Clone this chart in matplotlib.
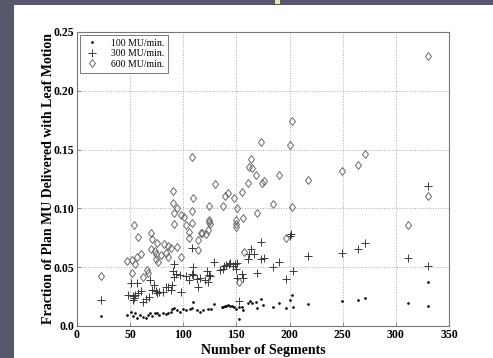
import matplotlib
matplotlib.use('Agg')
import matplotlib.pyplot as plt
from matplotlib.patches import Rectangle

# Times-like serif font (Liberation Serif is metric compatible with Times)
plt.rcParams['font.family'] = 'Liberation Serif'

# 100 MU/min. (dots)
seg_100 = [23, 47, 51, 53, 55, 56, 59, 62, 65, 67, 69, 71, 73, 75, 77, 81, 84, 86, 88, 89,
           91, 94, 97, 100, 103, 106, 108, 109, 113, 116, 119, 123, 126, 129, 136, 139, 142, 146,
           137, 140, 144, 148, 150, 152, 152, 155, 156, 161, 163, 165, 168, 169, 173, 175, 184, 190,
           197, 200, 202, 203, 217, 249, 264, 271, 311, 330, 330]
frac_100 = [0.0085, 0.0094, 0.0122, 0.0085, 0.011, 0.0065, 0.0094, 0.0074, 0.0065, 0.0094,
            0.011, 0.0085, 0.0113, 0.011, 0.0094, 0.011, 0.0099, 0.011, 0.0119, 0.0142,
            0.015, 0.0136, 0.0122, 0.0142, 0.0136, 0.0142, 0.015, 0.0207, 0.0133, 0.0122, 0.0136,
            0.0142, 0.0142, 0.0187, 0.0164, 0.017, 0.0176, 0.017,
            0.0158, 0.017, 0.017, 0.0164, 0.0142, 0.0158, 0.0062, 0.0164, 0.0136, 0.0193, 0.0215,
            0.0198, 0.0207, 0.015, 0.0232, 0.0178, 0.0158, 0.0193, 0.015, 0.0221, 0.0263, 0.0158,
            0.0187, 0.0212, 0.0221, 0.0235, 0.0193, 0.0377, 0.0167]

# 300 MU/min. (plus)
seg_300 = [23, 48, 51, 56, 53, 53, 55, 57, 54, 62, 65, 60, 68, 69, 72, 71, 74, 75, 77, 81,
           84, 86, 88, 89, 91, 90, 91, 93, 97, 98, 103, 105, 108, 109, 108, 109, 113, 116, 114,
           120, 123, 124, 122, 125, 129, 137, 140, 143, 147,
           135, 138, 144, 149, 151, 150, 151, 155, 156, 152, 161, 162, 164, 167, 173, 173, 176,
           169, 184, 190, 197, 200, 201, 203, 217, 249, 264, 271, 311, 330, 330]
frac_300 = [0.0221, 0.0264, 0.0368, 0.0368, 0.022, 0.0255, 0.026, 0.028, 0.0234, 0.0206,
            0.0226, 0.0299, 0.025, 0.039, 0.0348, 0.031, 0.0299, 0.0278, 0.0289, 0.0292,
            0.0334, 0.0334, 0.0306, 0.0348, 0.0526, 0.047, 0.042, 0.0443, 0.0437, 0.0289,
            0.0426, 0.039, 0.0443, 0.043, 0.0666, 0.050, 0.040, 0.041, 0.0334,
            0.039, 0.0377, 0.043, 0.047, 0.0426, 0.0548, 0.0482, 0.0518, 0.0524, 0.051,
            0.048, 0.051, 0.0532, 0.0526, 0.0535, 0.0482, 0.0412, 0.044, 0.0412, 0.0209,
            0.0566, 0.0612, 0.0652, 0.061, 0.0717, 0.0566, 0.058,
            0.045, 0.0498, 0.0544, 0.0403, 0.0765, 0.0785, 0.0466, 0.0595, 0.0618, 0.0652,
            0.0703, 0.058, 0.1193, 0.0507]

# 600 MU/min. (diamonds)
seg_600 = [23, 54, 57, 47, 52, 52, 55, 56, 60, 62, 66, 67, 70, 71, 70, 73, 75, 74, 74, 76,
           79, 82, 84, 86, 86, 88, 90, 90, 91, 91, 94, 94, 98, 98, 101, 103, 105, 105, 108,
           108, 109, 108, 114, 114, 118, 117, 121, 123, 124, 125, 124, 130, 124, 137, 139, 142,
           148, 151, 150, 150, 150, 152, 155, 156, 157, 161, 162, 164, 165, 168, 169, 173, 174,
           176, 184, 190, 197, 200, 202, 202, 217, 249, 264, 271, 311, 330, 330]
frac_600 = [0.0428, 0.0856, 0.076, 0.055, 0.056, 0.0448, 0.0526, 0.0589, 0.0608, 0.042,
            0.0479, 0.0451, 0.0788, 0.0737, 0.0652, 0.064, 0.0703, 0.0615, 0.0573, 0.0544,
            0.0603, 0.0697, 0.0618, 0.059, 0.068, 0.066, 0.115, 0.1047, 0.087, 0.0958,
            0.100, 0.0675, 0.059, 0.0944, 0.0924, 0.086, 0.080, 0.075, 0.0873, 0.144,
            0.109, 0.098, 0.0733, 0.065, 0.079, 0.079, 0.078, 0.082, 0.0886, 0.0867, 0.1021,
            0.1207, 0.090, 0.102, 0.1105, 0.113, 0.109, 0.100, 0.0902, 0.0868, 0.0845, 0.0377,
            0.114, 0.0915, 0.0631, 0.122, 0.1355, 0.1417, 0.1341, 0.1284, 0.0958, 0.1567, 0.122,
            0.123, 0.104, 0.128, 0.0746, 0.1543, 0.1746, 0.101, 0.1239, 0.1318, 0.1372, 0.146,
            0.0858, 0.2299, 0.1103]

x_ticks = [0, 50, 100, 150, 200, 250, 300, 350]
y_ticks = [0.0, 0.05, 0.10, 0.15, 0.20, 0.25]
y_tick_labels = ['0.0', '0.05', '0.10', '0.15', '0.20', '0.25']

fig = plt.figure(figsize=(4.93, 3.58), dpi=100)
fig.patch.set_facecolor('#56596b')
# white slide panel and the little yellow title fragment
fig.patches.append(Rectangle((14 / 493, 0), 1 - 14 / 493, 1 - 5 / 358,
                             transform=fig.transFigure, facecolor='white',
                             edgecolor='none', zorder=-5))
fig.patches.append(Rectangle((275 / 493, 1 - 4 / 358), 5 / 493, 4 / 358,
                             transform=fig.transFigure, facecolor='#f2e39a',
                             edgecolor='none', zorder=-5))

ax = fig.add_axes([77 / 493, 1 - 326 / 358, (449 - 77) / 493, (326 - 32) / 358])
ax.set_zorder(2)

ax.plot(seg_100, frac_100, '.', color='black', markersize=1.8, label='100 MU/min.')
ax.plot(seg_300, frac_300, '+', color='#3a3a3a', markersize=5.5, markeredgewidth=0.7,
        label='300 MU/min.')
ax.plot(seg_600, frac_600, 'd', color='#6a6a6a', markerfacecolor='none', markersize=4.5,
        markeredgewidth=0.7, label='600 MU/min.')

ax.set_xlim(0, 350)
ax.set_ylim(0, 0.25)
ax.set_xticks(x_ticks)
ax.set_yticks(y_ticks)
ax.set_yticklabels(y_tick_labels)
ax.tick_params(direction='in', length=3, width=0.6, color='#777777', labelsize=8.5, pad=2)
for lab in ax.get_xticklabels() + ax.get_yticklabels():
    lab.set_fontweight('bold')
ax.grid(True, linestyle=':', color='#aaaaaa', linewidth=0.7)
for sp in ax.spines.values():
    sp.set_color('#777777')
    sp.set_linewidth(0.8)

ax.set_xlabel('Number of Segments', fontsize=10, fontweight='bold', labelpad=2)
ax.set_ylabel('Fraction of Plan MU Delivered with Leaf Motion', fontsize=10,
              fontweight='bold', labelpad=-1)

leg = ax.legend(loc='upper left', fontsize=7, frameon=True, fancybox=False,
                edgecolor='#555555', borderaxespad=0.3, handletextpad=1.2,
                labelspacing=0.15, borderpad=0.4, handlelength=1.6)
leg.get_frame().set_linewidth(0.7)

fig.savefig('out.png', dpi=100, facecolor=fig.get_facecolor())
